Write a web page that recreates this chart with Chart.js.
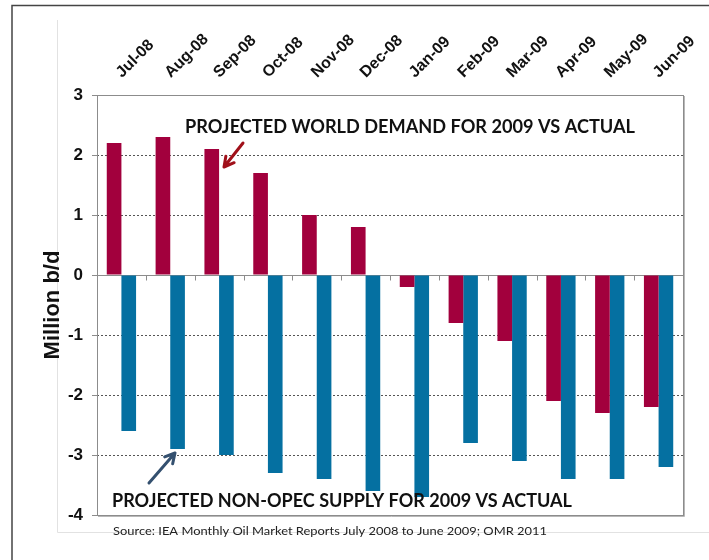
<!DOCTYPE html>
<html>
<head>
<meta charset="utf-8">
<script src="https://cdn.jsdelivr.net/npm/chart.js@4.4.0/dist/chart.umd.min.js"></script>
<style>
  html, body { margin: 0; padding: 0; background: #fff; }
  canvas { display: block; }
</style>
</head>
<body>
<canvas id="oilChart" width="709" height="560"></canvas>
<script>
const months = ["Jul-08", "Aug-08", "Sep-08", "Oct-08", "Nov-08", "Dec-08",
                "Jan-09", "Feb-09", "Mar-09", "Apr-09", "May-09", "Jun-09"];
// projected world demand for 2009 minus actual
const demandDiff = [2.2, 2.3, 2.1, 1.7, 1.0, 0.8, -0.2, -0.8, -1.1, -2.1, -2.3, -2.2];
// projected non-OPEC supply for 2009 minus actual
const supplyDiff = [-2.6, -2.9, -3.0, -3.3, -3.4, -3.6, -3.7, -2.8, -3.1, -3.4, -3.4, -3.2];
const yMin = -4;
const yMax = 3;
const dashedAt = [2, 1, -1, -2, -3];

const demandLabel = "PROJECTED WORLD DEMAND FOR 2009 VS ACTUAL";
const supplyLabel = "PROJECTED NON-OPEC SUPPLY FOR 2009 VS ACTUAL";
const sourceNote = "Source: IEA Monthly Oil Market Reports July 2008 to June 2009; OMR 2011";

const RED = "#a2003d";
const BLUE = "#0570a1";

function fitText(ctx, text, x, y, width, font, color) {
  ctx.save();
  ctx.font = font;
  ctx.fillStyle = color;
  ctx.textBaseline = "alphabetic";
  const w = ctx.measureText(text).width;
  ctx.translate(x, y);
  ctx.scale(width / w, 1);
  ctx.fillText(text, 0, 0);
  ctx.restore();
}

function arrow(ctx, x1, y1, x2, y2, color) {
  const a = Math.atan2(y2 - y1, x2 - x1);
  const head = 11;
  ctx.save();
  ctx.strokeStyle = color;
  ctx.lineWidth = 3;
  ctx.lineCap = "round";
  ctx.lineJoin = "round";
  ctx.beginPath();
  ctx.moveTo(x1, y1);
  ctx.lineTo(x2, y2);
  ctx.moveTo(x2 - head * Math.cos(a - 0.5), y2 - head * Math.sin(a - 0.5));
  ctx.lineTo(x2, y2);
  ctx.lineTo(x2 - head * Math.cos(a + 0.5), y2 - head * Math.sin(a + 0.5));
  ctx.stroke();
  ctx.restore();
}

const decor = {
  id: "decor",
  beforeDraw(chart) {
    const ctx = chart.ctx;
    ctx.save();
    ctx.fillStyle = "#fff";
    ctx.fillRect(0, 0, chart.width, chart.height);
    // slide frame
    ctx.strokeStyle = "#444";
    ctx.lineWidth = 1.5;
    ctx.beginPath();
    ctx.moveTo(12, 560);
    ctx.lineTo(12, 5.5);
    ctx.lineTo(709, 5.5);
    ctx.stroke();
    // faint chart-object border
    ctx.strokeStyle = "#e2e2e2";
    ctx.lineWidth = 1;
    ctx.beginPath();
    ctx.moveTo(57.5, 20);
    ctx.lineTo(57.5, 532.5);
    ctx.lineTo(709, 532.5);
    ctx.stroke();
    ctx.restore();
  },
  beforeDatasetsDraw(chart) {
    const ctx = chart.ctx;
    const area = chart.chartArea;
    const x = chart.scales.x;
    const y0 = Math.round(chart.scales.y.getPixelForValue(0)) + 0.5;
    ctx.save();
    ctx.strokeStyle = "#8c8c8c";
    ctx.lineWidth = 1;
    ctx.beginPath();
    ctx.moveTo(area.left, y0);
    ctx.lineTo(area.right, y0);
    for (let i = 1; i < months.length; i++) {
      const bx = Math.round((x.getPixelForValue(i - 1) + x.getPixelForValue(i)) / 2) + 0.5;
      ctx.moveTo(bx, y0);
      ctx.lineTo(bx, y0 + 5);
    }
    ctx.stroke();
    ctx.restore();
  },
  afterDatasetsDraw(chart) {
    const ctx = chart.ctx;
    const a = chart.chartArea;
    ctx.save();
    ctx.strokeStyle = "#8c8c8c";
    ctx.lineWidth = 1;
    ctx.strokeRect(Math.round(a.left) + 0.5, Math.round(a.top) + 0.5,
                   Math.round(a.right - a.left), Math.round(a.bottom - a.top));
    ctx.strokeStyle = "#b8b8b8";
    ctx.beginPath();
    ctx.moveTo(Math.round(a.right) + 1.5, a.top + 1);
    ctx.lineTo(Math.round(a.right) + 1.5, a.bottom + 1.5);
    ctx.lineTo(a.left + 1, a.bottom + 1.5);
    ctx.stroke();
    ctx.restore();

    fitText(ctx, demandLabel, 185, 133, 450, "bold 19px Lato", "#111");
    fitText(ctx, supplyLabel, 112, 507, 460, "bold 19px Lato", "#111");
    fitText(ctx, sourceNote, 113, 535, 434, "12px Lato", "#222");
    arrow(ctx, 243, 143, 224, 167, "#a0101a");
    arrow(ctx, 149, 483, 175, 453, "#34506f");
  }
};

new Chart(document.getElementById("oilChart"), {
  type: "bar",
  data: {
    labels: months,
    datasets: [{
      label: "Demand",
      data: demandDiff,
      backgroundColor: RED,
      borderWidth: 0,
      categoryPercentage: 0.6,
      barPercentage: 1.0
    }, {
      label: "Supply",
      data: supplyDiff,
      backgroundColor: BLUE,
      borderWidth: 0,
      categoryPercentage: 0.6,
      barPercentage: 1.0
    }]
  },
  options: {
    responsive: false,
    animation: false,
    devicePixelRatio: 1,
    layout: { padding: { left: 40, top: 0, right: 26, bottom: 45 } },
    plugins: { legend: { display: false }, tooltip: { enabled: false } },
    scales: {
      x: {
        position: "top",
        grid: { display: false },
        border: { display: false },
        ticks: {
          color: "#111",
          font: { family: "Liberation Sans", weight: "bold", size: 16 },
          minRotation: 45,
          maxRotation: 45,
          padding: 5,
          labelOffset: 11
        },
        afterFit(scale) { scale.height = 95; }
      },
      y: {
        min: yMin,
        max: yMax,
        border: { display: false, dash: [2, 2] },
        grid: {
          color: (c) => dashedAt.includes(c.tick && c.tick.value) ? "#555" : "rgba(0,0,0,0)",
          tickColor: "#8c8c8c",
          tickLength: 5
        },
        ticks: {
          stepSize: 1,
          color: "#111",
          padding: 9,
          font: { family: "Liberation Sans", weight: "bold", size: 17 }
        },
        title: {
          display: true,
          text: "Million b/d",
          color: "#111",
          padding: { top: 0, bottom: 0 },
          font: { family: "Liberation Sans", weight: "bold", size: 22 }
        },
        afterFit(scale) { scale.width = 57; }
      }
    }
  },
  plugins: [decor]
});
</script>
</body>
</html>
